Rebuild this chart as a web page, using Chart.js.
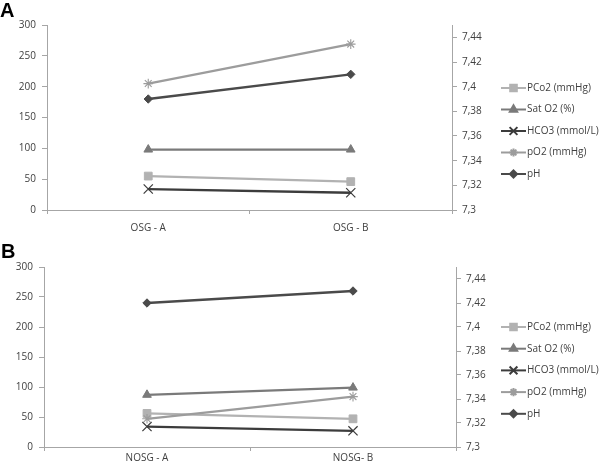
<!DOCTYPE html>
<html>
<head>
<meta charset="utf-8">
<script src="https://cdn.jsdelivr.net/npm/chart.js@4.4.1/dist/chart.umd.min.js"></script>
<style>
  html, body { margin: 0; padding: 0; background: #fff; }
  #wrap { position: relative; width: 600px; height: 471px; overflow: hidden; }
  .panel { position: absolute; left: 0; width: 600px; }
</style>
</head>
<body>
<div id="wrap">
  <div class="panel" style="top:0;height:235px"><canvas id="chartA" width="600" height="235"></canvas></div>
  <div class="panel" style="top:235px;height:236px"><canvas id="chartB" width="600" height="236"></canvas></div>
</div>
<script>
// --- data ---
const seriesNames = ['PCo2 (mmHg)', 'Sat O2 (%)', 'HCO3 (mmol/L)', 'pO2 (mmHg)', 'pH'];

const categoriesA = ['OSG - A', 'OSG - B'];
const pco2A = [55, 46];
const satO2A = [98, 98];
const hco3A = [34, 28];
const po2A = [205, 269];
const phA = [7.39, 7.41];

const categoriesB = ['NOSG - A', 'NOSG- B'];
const pco2B = [56, 47];
const satO2B = [87, 99];
const hco3B = [34, 27];
const po2B = [47, 84];
const phB = [7.42, 7.43];

const leftTicks = [0, 50, 100, 150, 200, 250, 300];
const rightTicks = [7.3, 7.32, 7.34, 7.36, 7.38, 7.4, 7.42, 7.44];

// --- styles ---
const FONT = "'Open Sans', sans-serif";
const TXT = '#404040';
const AXIS = '#a6a6a6';
const seriesStyle = [
    { color: '#b2b2b2', pointStyle: 'rect', radius: 5.5, bw: 1 },
    { color: '#7a7a7a', pointStyle: 'triangle', radius: 5, bw: 1 },
    { color: '#3c3c3c', pointStyle: 'crossRot', radius: 6.5, bw: 1.2 },
    { color: '#9c9c9c', pointStyle: 'star', radius: 4.8, bw: 1.1 },
    { color: '#4a4a4a', pointStyle: 'rectRot', radius: 4.2, bw: 1 }
];

const fmtComma = v => String(Number(v.toFixed(2))).replace('.', ',');

// leyenda estilo Excel (línea + marcador) y letra del panel
const excelLegend = {
    id: 'excelLegend',
    afterDraw(chart, args, opts) {
        const ctx = chart.ctx;
        ctx.save();
        chart.data.datasets.forEach((ds, i) => {
            const y = opts.top + i * opts.step;
            const x0 = opts.left;
            ctx.strokeStyle = ds.borderColor;
            ctx.fillStyle = ds.borderColor;
            ctx.lineWidth = 2;
            ctx.beginPath();
            ctx.moveTo(x0, y);
            ctx.lineTo(x0 + 25, y);
            ctx.stroke();
            Chart.helpers.drawPoint(ctx, {
                pointStyle: ds.pointStyle, radius: ds.pointRadius * 0.85,
                rotation: 0, borderWidth: ds.pointBorderWidth
            }, x0 + 12.5, y);
            ctx.fillStyle = TXT;
            ctx.font = '10px ' + FONT;
            ctx.textBaseline = 'middle';
            ctx.textAlign = 'left';
            ctx.fillText(ds.label, x0 + 26, y);
        });
        ctx.fillStyle = '#000';
        ctx.font = 'bold 20px "Liberation Sans", Arial, sans-serif';
        ctx.textBaseline = 'top';
        ctx.fillText(opts.letter, opts.letterX, opts.letterY);
        ctx.restore();
    }
};

function buildChart(id, cfg) {
    const values = [cfg.pco2, cfg.satO2, cfg.hco3, cfg.po2, cfg.ph];
    const datasets = seriesNames.map((name, i) => ({
        label: name,
        data: values[i],
        yAxisID: i === 4 ? 'y1' : 'y',
        borderColor: seriesStyle[i].color,
        backgroundColor: seriesStyle[i].color,
        pointBorderColor: seriesStyle[i].color,
        pointBackgroundColor: seriesStyle[i].color,
        pointStyle: seriesStyle[i].pointStyle,
        pointRadius: seriesStyle[i].radius,
        pointBorderWidth: seriesStyle[i].bw,
        borderWidth: 2.3,
        tension: 0,
        order: 5 - i
    }));

    return new Chart(document.getElementById(id), {
        type: 'line',
        data: { labels: cfg.categories, datasets },
        plugins: [excelLegend],
        options: {
            responsive: false,
            animation: false,
            layout: { padding: { left: 0, top: cfg.top, right: 100, bottom: 0 } },
            plugins: {
                legend: { display: false },
                tooltip: { enabled: false },
                excelLegend: cfg.legend
            },
            scales: {
                x: {
                    offset: true,
                    grid: { offset: true, drawOnChartArea: false, color: AXIS, tickLength: 4 },
                    border: { color: AXIS, width: 1 },
                    ticks: { color: TXT, font: { family: FONT, size: 10 }, padding: cfg.xPad, maxRotation: 0 },
                    afterFit: s => { s.height = cfg.xHeight; }
                },
                y: {
                    position: 'left',
                    min: 0, max: 300,
                    grid: { drawOnChartArea: false, color: AXIS, tickLength: 5 },
                    border: { color: AXIS, width: 1 },
                    afterBuildTicks: s => { s.ticks = leftTicks.map(v => ({ value: v })); },
                    ticks: { color: TXT, font: { family: FONT, size: 10 }, padding: 6 },
                    afterFit: s => { s.width = cfg.leftW; }
                },
                y1: {
                    position: 'right',
                    min: 7.3, max: 7.45,
                    grid: { drawOnChartArea: false, color: AXIS, tickLength: 5 },
                    border: { color: AXIS, width: 1 },
                    afterBuildTicks: s => { s.ticks = rightTicks.map(v => ({ value: v })); },
                    ticks: { color: TXT, font: { family: FONT, size: 10 }, padding: 5, callback: v => fmtComma(v) },
                    afterFit: s => { s.width = cfg.rightW; }
                }
            }
        }
    });
}

buildChart('chartA', {
    categories: categoriesA, pco2: pco2A, satO2: satO2A, hco3: hco3A, po2: po2A, ph: phA,
    top: 25, leftW: 47, rightW: 48, xHeight: 25, xPad: 8,
    legend: { left: 501, top: 88, step: 21.5, letter: 'A', letterX: 0, letterY: 1 }
});

buildChart('chartB', {
    categories: categoriesB, pco2: pco2B, satO2: satO2B, hco3: hco3B, po2: po2B, ph: phB,
    top: 32, leftW: 44, rightW: 44, xHeight: 24, xPad: 1,
    legend: { left: 501, top: 92, step: 21.7, letter: 'B', letterX: 1, letterY: 7 }
});
</script>
</body>
</html>
